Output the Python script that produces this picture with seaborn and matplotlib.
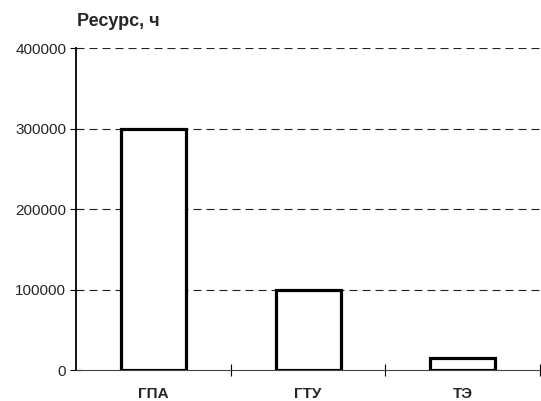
import matplotlib
matplotlib.use("Agg")
import matplotlib.pyplot as plt
import seaborn as sns
import pandas as pd

# Data
categories = ["ГПА", "ГТУ", "ТЭ"]
resource_hours = [300000, 100000, 15000]
y_ticks = [0, 100000, 200000, 300000, 400000]

df = pd.DataFrame({"Тип": categories, "Ресурс": resource_hours})

sns.set_style("white")
plt.rcParams["font.family"] = ["Liberation Sans", "DejaVu Sans"]

fig = plt.figure(figsize=(5.41, 4.01), dpi=100)
ax = fig.add_axes([0.1405, 0.0773, 0.858, 0.8027])

sns.barplot(data=df, x="Тип", y="Ресурс", color="white", edgecolor="black",
            linewidth=2.3, width=0.42, ax=ax, zorder=3)

ax.set_xlim(-0.5, 2.5)
ax.set_ylim(0, 400000)
ax.set_yticks(y_ticks)
ax.set_yticklabels([str(v) for v in y_ticks], fontsize=11)

# dashed horizontal grid
for v in y_ticks[1:]:
    ax.axhline(v, color="#222222", linestyle=(0, (7.2, 4.5)), linewidth=0.8, zorder=1)

# category labels at centres, tick marks on the boundaries
ax.set_xticks(range(len(categories)))
ax.set_xticklabels(categories, fontsize=11, fontweight="bold")
ax.tick_params(axis="x", which="major", bottom=False, length=0, pad=12)
ax.set_xticks([0.5, 1.5, 2.5], minor=True)
ax.tick_params(axis="x", which="minor", bottom=True, direction="inout",
               length=8, width=0.8, color="black")
ax.tick_params(axis="y", left=True, direction="inout", length=8, width=0.8,
               color="black", pad=3)

ax.set_xlabel("")
ax.set_ylabel("")
for s in ["top", "right"]:
    ax.spines[s].set_visible(False)
ax.spines["left"].set_color("black")
ax.spines["left"].set_linewidth(1.3)
ax.spines["bottom"].set_color("#444444")
ax.spines["bottom"].set_linewidth(0.8)

fig.text(0.142, 0.946, "Ресурс, ч", fontsize=13, fontweight="bold", ha="left", va="center")

fig.savefig("out.png", dpi=100)
